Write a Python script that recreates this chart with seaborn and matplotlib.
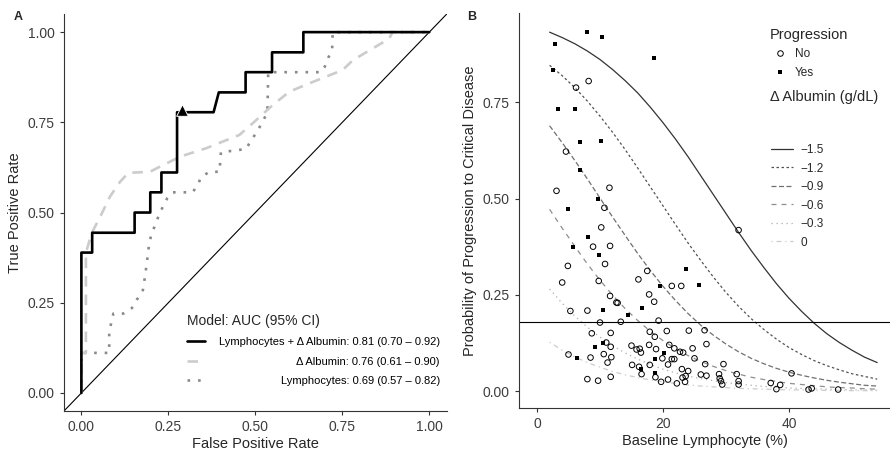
import pandas as pd
import seaborn as sns
import matplotlib.pyplot as plt
from matplotlib.lines import Line2D

sns.set_style('ticks')
plt.rcParams['font.family'] = ['Liberation Sans', 'DejaVu Sans']
plt.rcParams.update({'axes.edgecolor': '#333333', 'axes.linewidth': 0.8,
                     'xtick.color': '#333333', 'ytick.color': '#333333',
                     'xtick.labelcolor': '#3d3d3d', 'ytick.labelcolor': '#3d3d3d',
                     'xtick.major.size': 3, 'ytick.major.size': 3})

# Panel A: ROC curves
combo_fpr = [0, 0, 0.031, 0.031, 0.153, 0.153, 0.198, 0.198, 0.230, 0.230, 0.275, 0.275,
             0.380, 0.395, 0.472, 0.472, 0.548, 0.548, 0.638, 0.638, 1.0]
combo_tpr = [0, 0.389, 0.389, 0.444, 0.444, 0.5, 0.5, 0.556, 0.556, 0.611, 0.611, 0.778,
             0.778, 0.833, 0.833, 0.889, 0.889, 0.944, 0.944, 1.0, 1.0]
alb_fpr = [0, 0, 0.013, 0.013, 0.030, 0.054, 0.082, 0.111, 0.135, 0.197, 0.236, 0.284,
           0.358, 0.454, 0.492, 0.550, 0.598, 0.655, 0.751, 0.780, 0.885, 0.894, 1.0]
alb_tpr = [0, 0.111, 0.111, 0.389, 0.444, 0.488, 0.544, 0.585, 0.610, 0.613, 0.632, 0.655,
           0.678, 0.715, 0.747, 0.798, 0.835, 0.858, 0.895, 0.922, 0.982, 1.0, 1.0]
lym_fpr = [0, 0, 0.080, 0.080, 0.092, 0.121, 0.145, 0.159, 0.176, 0.180, 0.188, 0.195,
           0.202, 0.212, 0.221, 0.234, 0.247, 0.262, 0.320, 0.336, 0.344, 0.368, 0.397,
           0.401, 0.473, 0.488, 0.502, 0.516, 0.529, 0.535, 0.537, 0.689, 0.700, 0.710,
           0.720, 0.722, 0.722, 1.0]
lym_tpr = [0, 0.111, 0.111, 0.170, 0.220, 0.220, 0.235, 0.258, 0.281, 0.304, 0.359, 0.415,
           0.442, 0.465, 0.488, 0.516, 0.540, 0.556, 0.556, 0.580, 0.598, 0.613, 0.613,
           0.667, 0.676, 0.700, 0.720, 0.743, 0.767, 0.792, 0.889, 0.889, 0.905, 0.930,
           0.947, 0.972, 1.0, 1.0]
cutoff_fpr = [0.29]
cutoff_tpr = [0.785]
roc_labels = ['Lymphocytes + \u0394 Albumin: 0.81 (0.70 \u2013 0.92)',
              '\u0394 Albumin: 0.76 (0.61 \u2013 0.90)',
              'Lymphocytes: 0.69 (0.57 \u2013 0.82)']

# Panel B: predicted probability by baseline lymphocyte for each albumin change
lymph_grid = [2, 4, 6, 8, 10, 12, 14, 16, 18, 20, 22, 24, 26, 28, 30, 32, 34, 36, 38,
              40, 42, 44, 46, 48, 50, 52, 54]
alb_levels = ['\u22121.5', '\u22121.2', '\u22120.9', '\u22120.6', '\u22120.3', '0']
prob_m15 = [0.932, 0.918, 0.902, 0.883, 0.861, 0.835, 0.806, 0.774, 0.737, 0.697, 0.654,
            0.608, 0.559, 0.510, 0.461, 0.412, 0.365, 0.321, 0.279, 0.241, 0.207, 0.176,
            0.149, 0.126, 0.106, 0.088, 0.074]
prob_m12 = [0.846, 0.819, 0.788, 0.753, 0.714, 0.672, 0.627, 0.579, 0.530, 0.481, 0.432,
            0.384, 0.339, 0.296, 0.256, 0.220, 0.188, 0.160, 0.135, 0.113, 0.095, 0.079,
            0.066, 0.055, 0.045, 0.038, 0.031]
prob_m09 = [0.689, 0.645, 0.599, 0.551, 0.501, 0.452, 0.404, 0.357, 0.313, 0.272, 0.235,
            0.201, 0.171, 0.145, 0.122, 0.102, 0.085, 0.071, 0.059, 0.049, 0.041, 0.034,
            0.028, 0.023, 0.019, 0.015, 0.013]
prob_m06 = [0.472, 0.423, 0.376, 0.330, 0.288, 0.249, 0.214, 0.183, 0.155, 0.131, 0.110,
            0.092, 0.077, 0.064, 0.053, 0.044, 0.036, 0.030, 0.025, 0.020, 0.017, 0.014,
            0.011, 0.009, 0.008, 0.006, 0.005]
prob_m03 = [0.265, 0.228, 0.195, 0.166, 0.140, 0.118, 0.099, 0.083, 0.069, 0.057, 0.047,
            0.039, 0.032, 0.027, 0.022, 0.018, 0.015, 0.012, 0.010, 0.008, 0.007, 0.006,
            0.005, 0.004, 0.003, 0.003, 0.002]
prob_00 = [0.127, 0.106, 0.089, 0.074, 0.062, 0.051, 0.042, 0.035, 0.029, 0.024, 0.020,
           0.016, 0.013, 0.011, 0.009, 0.007, 0.006, 0.005, 0.004, 0.003, 0.003, 0.002,
           0.002, 0.002, 0.001, 0.001, 0.001]
threshold = 0.18

yes_x = [7.9, 10.3, 2.9, 18.5, 2.6, 3.3, 6.0, 6.9, 10.1, 6.8, 9.7, 5.0, 8.1, 5.7, 9.9, 23.6,
         25.7, 19.5, 16.7, 14.5, 10.5, 9.2, 10.5, 6.3, 16.5, 18.8, 20.2, 18.7]
yes_y = [0.933, 0.920, 0.901, 0.866, 0.834, 0.732, 0.732, 0.647, 0.649, 0.574, 0.500, 0.472,
         0.399, 0.373, 0.353, 0.318, 0.275, 0.273, 0.215, 0.197, 0.210, 0.115, 0.126, 0.087,
         0.057, 0.083, 0.100, 0.046]
no_x = [8.2, 6.2, 4.6, 3.1, 11.5, 10.7, 10.2, 32.0, 8.9, 11.6, 10.8, 4.9, 4.0, 9.8, 16.1,
        17.5, 21.4, 22.9, 11.6, 17.8, 18.6, 12.8, 5.3, 8.0, 10.0, 13.3, 19.3, 8.7, 11.7,
        17.9, 20.6, 24.1, 26.6, 11.0, 11.7, 15.0, 15.8, 16.5, 17.8, 18.7, 18.9, 21.0, 21.8,
        22.7, 23.2, 24.7, 26.9, 5.0, 8.5, 10.6, 11.2, 11.8, 15.1, 16.2, 17.9, 19.9, 20.8,
        21.4, 21.8, 25.0, 26.7, 29.6, 16.6, 18.8, 19.7, 20.8, 22.2, 23.0, 23.1, 23.6, 24.0,
        23.5, 26.0, 26.9, 28.9, 29.0, 29.2, 29.4, 31.7, 32.0, 32.0, 8.0, 9.7, 11.7, 37.1,
        38.6, 38.0, 40.4, 43.1, 43.6, 47.8, 12.6, 16.3]
no_y = [0.805, 0.788, 0.622, 0.520, 0.528, 0.476, 0.425, 0.418, 0.375, 0.377, 0.330, 0.325,
        0.282, 0.286, 0.290, 0.312, 0.273, 0.273, 0.247, 0.251, 0.232, 0.229, 0.208, 0.209,
        0.178, 0.180, 0.183, 0.150, 0.151, 0.154, 0.156, 0.157, 0.158, 0.126, 0.115, 0.118,
        0.108, 0.100, 0.120, 0.141, 0.109, 0.120, 0.111, 0.102, 0.100, 0.111, 0.122, 0.095,
        0.087, 0.096, 0.074, 0.088, 0.068, 0.063, 0.068, 0.085, 0.069, 0.083, 0.083, 0.085,
        0.070, 0.070, 0.044, 0.036, 0.024, 0.030, 0.020, 0.057, 0.035, 0.039, 0.052, 0.024,
        0.043, 0.040, 0.044, 0.033, 0.026, 0.017, 0.044, 0.026, 0.017, 0.031, 0.027, 0.037,
        0.021, 0.016, 0.005, 0.046, 0.004, 0.007, 0.004, 0.230, 0.110]

fig = plt.figure(figsize=(8.9, 4.5), dpi=100)
axA = fig.add_axes([0.0719, 0.0867, 0.430, 0.882])
axB = fig.add_axes([0.5831, 0.0933, 0.4169, 0.878])

# ---- panel A
axA.axline((0, 0), (1, 1), color='black', lw=0.8)
sns.lineplot(x=lym_fpr, y=lym_tpr, sort=False, estimator=None, color='#8a8a8a', lw=1.9,
             linestyle=(0, (1, 3)), ax=axA)
sns.lineplot(x=alb_fpr, y=alb_tpr, sort=False, estimator=None, color='#cccccc', lw=1.9,
             linestyle=(0, (4, 3)), ax=axA)
sns.lineplot(x=combo_fpr, y=combo_tpr, sort=False, estimator=None, color='black', lw=1.9, ax=axA)
sns.scatterplot(x=cutoff_fpr, y=cutoff_tpr, marker='^', s=70, color='black', ax=axA, zorder=5)
h_lym, h_alb, h_combo = axA.lines[1], axA.lines[2], axA.lines[3]

axA.set_xlim(-0.05, 1.05)
axA.set_ylim(-0.05, 1.05)
ticks = [0, 0.25, 0.5, 0.75, 1.0]
axA.set_xticks(ticks, ['0.00', '0.25', '0.50', '0.75', '1.00'], fontsize=10)
axA.set_yticks(ticks, ['0.00', '0.25', '0.50', '0.75', '1.00'], fontsize=10)
axA.set_xlabel('False Positive Rate', fontsize=10.5, labelpad=2)
axA.set_ylabel('True Positive Rate', fontsize=10.5, labelpad=4)
sns.despine(ax=axA)

legA = axA.legend([h_combo, h_alb, h_lym], roc_labels, title='Model: AUC (95% CI)',
                  loc='upper left', bbox_to_anchor=(0.322, 0.245), frameon=False,
                  fontsize=8, title_fontsize=10, handlelength=1.6, handletextpad=0.8,
                  labelspacing=0.85, alignment='left', borderpad=0, borderaxespad=0)

# ---- panel B
styles = ['-', (0, (2, 2)), (0, (4, 2)), (0, (4, 4)), (0, (1, 3)), (0, (1, 3, 4, 3))]
greys = ['#333333', '#525252', '#707070', '#8f8f8f', '#adadad', '#cccccc']
curves = [prob_m15, prob_m12, prob_m09, prob_m06, prob_m03, prob_00]
curve_handles = []
for probs, ls, col in zip(curves, styles, greys):
    sns.lineplot(x=lymph_grid, y=probs, sort=False, estimator=None, color=col, lw=0.9,
                 linestyle=ls, ax=axB)
    curve_handles.append(axB.lines[-1])

axB.axhline(threshold, color='black', lw=0.8)
sns.scatterplot(x=no_x, y=no_y, marker='o', s=16, facecolor='none', edgecolor='black',
                linewidth=0.7, ax=axB, zorder=4)
sns.scatterplot(x=yes_x, y=yes_y, marker='s', s=12, color='black', linewidth=0, ax=axB, zorder=4)

axB.set_xlim(-2.86, 56.03)
axB.set_ylim(-0.044, 0.982)
axB.set_xticks([0, 20, 40], ['0', '20', '40'], fontsize=10)
axB.set_yticks([0, 0.25, 0.5, 0.75], ['0.00', '0.25', '0.50', '0.75'], fontsize=10)
axB.set_xlabel('Baseline Lymphocyte (%)', fontsize=10.5, labelpad=2)
axB.set_ylabel('Probability of Progression to Critical Disease', fontsize=10.5, labelpad=4)
sns.despine(ax=axB)

prog_handles = [Line2D([], [], ls='none', marker='o', ms=4, mfc='none', mec='black', mew=0.7),
                Line2D([], [], ls='none', marker='s', ms=3.4, mfc='black', mec='black', mew=0)]
leg1 = axB.legend(prog_handles, ['No', 'Yes'], title='Progression', loc='upper left',
                  bbox_to_anchor=(0.677, 0.962), frameon=False, fontsize=8.5, title_fontsize=10.5,
                  handlelength=1.6, handletextpad=0.5, labelspacing=0.55, alignment='left',
                  borderpad=0, borderaxespad=0)
axB.add_artist(leg1)
axB.legend(curve_handles, alb_levels, loc='upper left', bbox_to_anchor=(0.679, 0.668),
           frameon=False, fontsize=8.5, handlelength=1.9, handletextpad=0.6,
           labelspacing=0.55, borderpad=0, borderaxespad=0)
axB.text(0.677, 0.787, '\u0394 Albumin (g/dL)', transform=axB.transAxes, fontsize=10.5,
         va='center', ha='left')

fig.text(14 / 890, 1 - 17 / 450, 'A', fontsize=9, fontweight='bold', va='center')
fig.text(467 / 890, 1 - 17 / 450, 'B', fontsize=9, fontweight='bold', va='center')

# right-align the model legend entries like the original:
# hide the legend's own texts and redraw them flush right at the same heights
fig.canvas.draw()
rend = fig.canvas.get_renderer()
right_px = 440
for t in legA.get_texts():
    bb = t.get_window_extent(rend)
    t.set_alpha(0)
    fig.text(right_px / 890, (bb.y0 + bb.y1) / 2 / fig.bbox.height, t.get_text(),
             fontsize=8, color='black', ha='right', va='center', zorder=10)

fig.savefig('out.png', dpi=100)
